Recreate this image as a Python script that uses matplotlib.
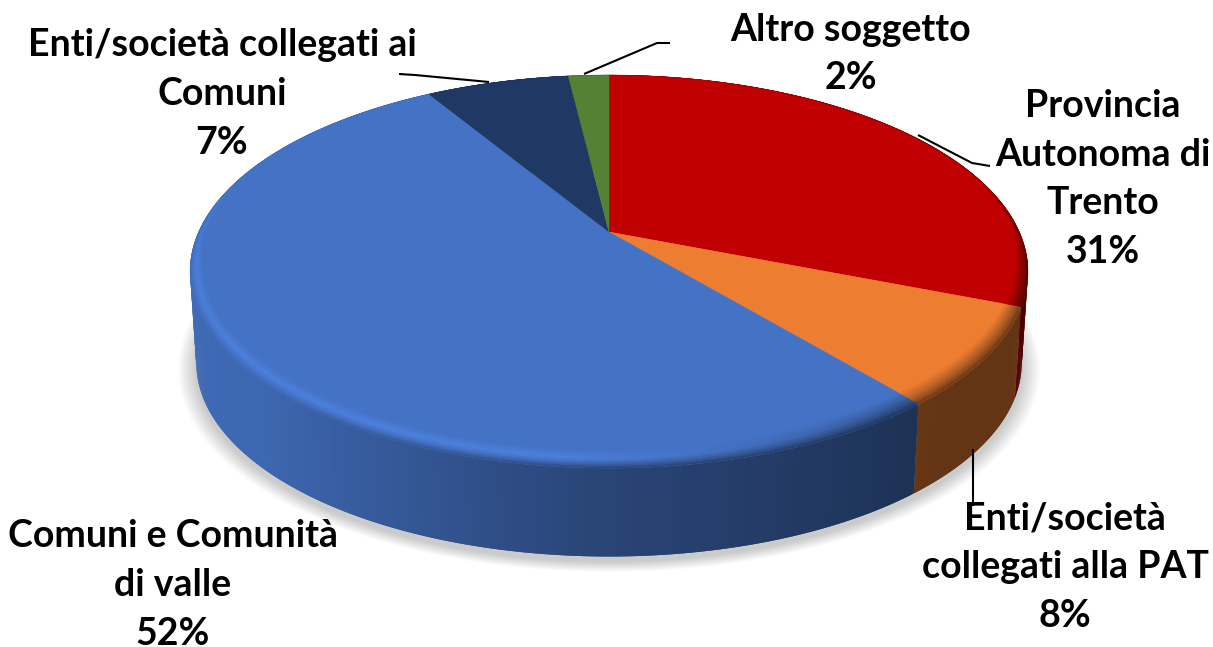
import numpy as np
import matplotlib
matplotlib.use("Agg")
import matplotlib.pyplot as plt
from matplotlib.collections import PolyCollection
from matplotlib.colors import to_rgb

# --- data
categories = ["Provincia\nAutonoma di\nTrento", "Enti/società\ncollegati alla PAT",
              "Comuni e Comunità\ndi valle", "Enti/società collegati ai\nComuni", "Altro soggetto"]
values = [31.0, 8.0, 52.4, 6.7, 1.9]
percent_labels = ["31%", "8%", "52%", "7%", "2%"]
colors = ["#C00000", "#ED7D31", "#4472C4", "#203864", "#548235"]

# --- layout (pixel canvas)
label_pos = [(1103, 179), (1065, 567), (173, 585), (222, 94), (851, 54)]
leaders = [[(918, 135), (972, 163), (990, 166)],
           [(973, 449), (973, 506)],
           None,
           [(399, 74), (415, 75), (489, 82)],
           [(670, 43), (657, 43), (584, 74)]]
CX, CY, A, B, K = 609, 232, 410.4, 188.6, 0.201
DY, BASE_S = 92, 0.985
FS = 27


def project(theta, r=1.0, dy=0.0, s=1.0):
    u, v = r * np.sin(theta), r * np.cos(theta)
    w = 1 + K * v
    return CX + s * A * u / w, CY + dy - s * B * v / w


def side_shade(t):
    return np.interp(t, [0, .14, .37, .5, .7, .85, 1], [.93, .9, .7, .6, .5, .42, .42])


def ridge_shade(t):
    return np.interp(t, [0, .45, .62, .8, 1], [1.12, 1.14, .98, .8, .75])


fig = plt.figure(figsize=(12.13, 6.47), dpi=100)
ax = fig.add_axes([0, 0, 1, 1])
ax.set_xlim(0, 1213)
ax.set_ylim(647, 0)
ax.axis("off")

# soft shadow
full = np.linspace(0, 2 * np.pi, 361)
for i in range(26, 0, -1):
    x, y = project(full, dy=DY + 5, s=BASE_S + i * 0.0017)
    ax.fill(x, y, color="#808080", alpha=0.016, lw=0, zorder=1)

edges = np.cumsum([0] + values) / sum(values) * 2 * np.pi
side_polys, side_cols, rim_polys, rim_cols = [], [], [], []
for a0, a1, col in zip(edges[:-1], edges[1:], colors):
    c = np.array(to_rgb(col))
    th = np.linspace(a0, a1, max(int((a1 - a0) * 150), 3))
    # outer wall: each quad overlaps the next so that no seams show
    for k in range(len(th) - 1):
        t0, t1 = th[k], th[min(k + 2, len(th) - 1)]
        x0, y0 = project(np.array([t0, t1]))
        x1, y1 = project(np.array([t1, t0]), dy=DY, s=BASE_S)
        side_polys.append(np.column_stack([np.r_[x0, x1], np.r_[y0, y1]]))
        side_cols.append(np.clip(c * side_shade((np.sin(th[k]) + 1) / 2), 0, 1))

ax.add_collection(PolyCollection(side_polys, facecolors=side_cols, edgecolors="none", zorder=2))

# top face
for a0, a1, col in zip(edges[:-1], edges[1:], colors):
    th = np.linspace(a0, a1, 120)
    x, y = project(th)
    ax.fill(np.r_[CX, x], np.r_[CY, y], color=col, lw=0.3, zorder=3)

# bevel along the front rim: face colour -> ridge -> wall colour
STEPS = np.linspace(0, 1, 11)
for a0, a1, col in zip(edges[:-1], edges[1:], colors):
    c = np.array(to_rgb(col))
    th = np.linspace(a0, a1, max(int((a1 - a0) * 150), 3))
    for k in range(len(th) - 1):
        t0, t1 = th[k], th[min(k + 2, len(th) - 1)]
        vm = np.cos(th[k])
        fade = np.clip((0.45 - vm) / 0.6, 0, 1)
        tt = (np.sin(th[k]) + 1) / 2
        width = 0.022 * max(fade, 0.2) + 0.042 * np.clip(-vm, 0, 1)
        for s0, s1 in zip(STEPS[:-1], STEPS[1:]):
            r0, r1 = 1 - width * (1 - s0), 1 - width * (1 - s1)
            xa, ya = project(np.array([t0, t1]), r=r0)
            xb, yb = project(np.array([t1, t0]), r=r1)
            sm = (s0 + s1) / 2
            ridge, wall = ridge_shade(tt), side_shade(tt)
            shade = np.interp(sm, [0, .5, .8, 1], [1, ridge, ridge * .5 + wall * .5, wall * .98 + .02 * fade])
            shade = 1 + (shade - 1) * max(fade, 0.75)
            rim_polys.append(np.column_stack([np.r_[xa, xb], np.r_[ya, yb]]))
            rim_cols.append(np.clip(c * shade, 0, 1))
ax.add_collection(PolyCollection(rim_polys, facecolors=rim_cols, edgecolors="none", zorder=4))

# leader lines
for pts in leaders:
    if pts:
        ax.plot(*zip(*pts), color="black", lw=1.5, zorder=5, solid_capstyle="butt")

# labels
for (px, py), cat, pct in zip(label_pos, categories, percent_labels):
    ax.text(px, py, f"{cat}\n{pct}", ha="center", va="center", family=["Lato", "DejaVu Sans"],
            weight="bold", fontsize=FS, linespacing=1.52, color="black", zorder=6)

fig.savefig("out.png", dpi=100, facecolor="white")
